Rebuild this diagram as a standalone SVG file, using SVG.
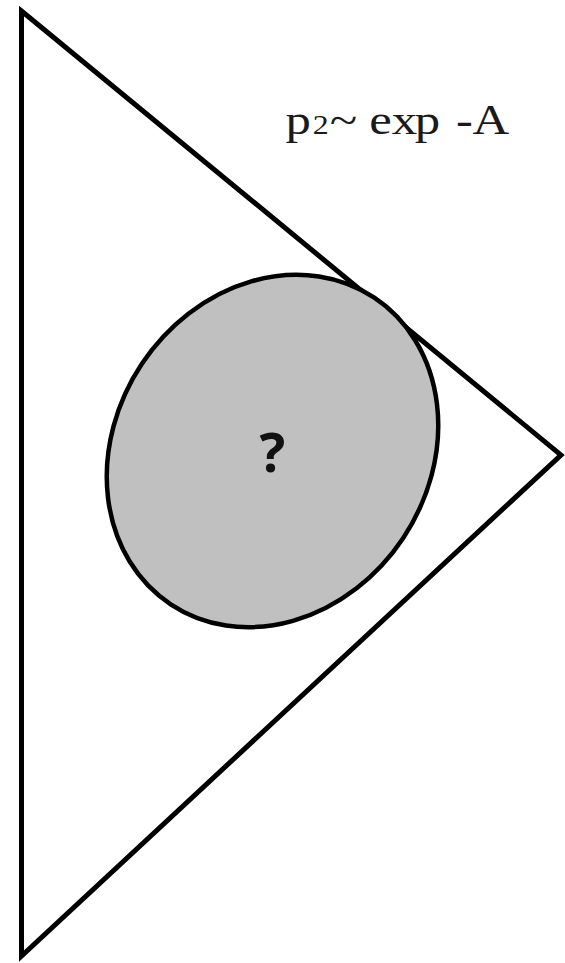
<svg xmlns="http://www.w3.org/2000/svg" width="565" height="963" viewBox="0 0 565 963">
<style>
.edge{fill:none;stroke:#000;stroke-width:5;stroke-linejoin:miter;stroke-miterlimit:10}
.lbl{font-family:"Liberation Serif",serif;font-size:43px;fill:#1a1a1a}
.q{font-family:"Open Sans","DejaVu Sans",sans-serif;font-weight:bold;font-size:54px;fill:#111}
</style>
<rect width="565" height="963" fill="#fff"/>
<g id="triangle">
<polygon class="edge" points="21.5,11 561,455 21.5,956"/>
</g>
<g id="label">
<text class="lbl" y="134" transform="scale(1.18 1)"><tspan x="242">p</tspan><tspan x="265" font-size="27">2</tspan><tspan x="279.5">~</tspan><tspan x="313">e</tspan><tspan x="332">x</tspan><tspan x="351.5">p</tspan><tspan x="386.5">-</tspan><tspan x="400.5">A</tspan></text>
</g>
<g id="circle">
<ellipse cx="272.5" cy="451" rx="184" ry="157" transform="rotate(-56.4 272.5 451)" fill="#c0c0c0" stroke="#000" stroke-width="4.5"/>
<text class="q" x="272.5" y="472" text-anchor="middle">?</text>
</g>
</svg>
